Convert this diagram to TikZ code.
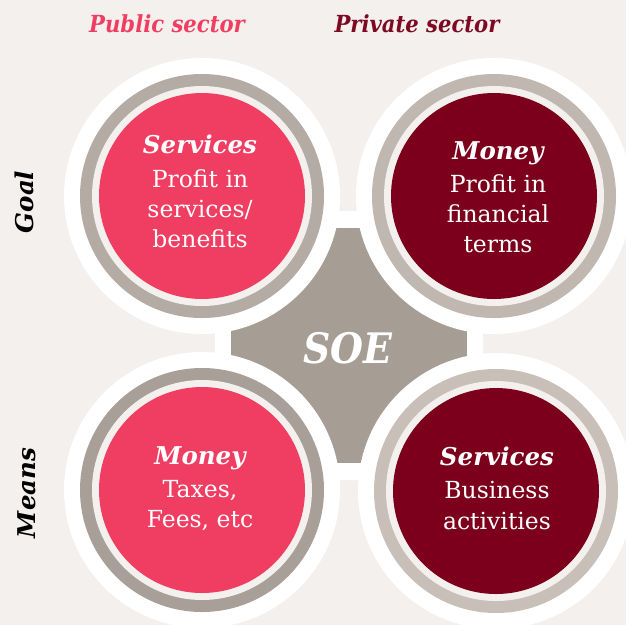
\documentclass[tikz,border=0pt]{standalone}
\usepackage{fontspec}
\setmainfont{DejaVu Serif}
\newfontfamily\condserif{DejaVu Serif Condensed}
\definecolor{bgc}{RGB}{243,240,237}
\definecolor{pinkc}{RGB}{240,62,98}
\definecolor{maroonc}{RGB}{124,0,28}
\definecolor{soegray}{RGB}{166,157,149}
\definecolor{ringA}{RGB}{180,172,164}
\definecolor{ringB}{RGB}{192,184,176}
\definecolor{ringC}{RGB}{168,160,152}
\definecolor{ringD}{RGB}{200,192,184}
\definecolor{hdrmaroon}{RGB}{125,10,34}
\tikzset{
  txt/.style={anchor=base, inner sep=0pt, outer sep=0pt},
  hdr/.style={txt, font=\condserif\fontsize{23.5}{28}\selectfont\bfseries\itshape},
  side/.style={txt, rotate=90, font=\fontsize{24.5}{28}\selectfont\bfseries\itshape},
  ctitle/.style={txt, text=white, font=\fontsize{24.5}{28}\selectfont\bfseries\itshape},
  cbody/.style={txt, text=white, font=\fontsize{23.5}{28}\selectfont},
  soetxt/.style={txt, text=white, font=\condserif\fontsize{42}{46}\selectfont\bfseries\itshape}
}
\begin{document}
\begin{tikzpicture}[x=1pt,y=-1pt]
\useasboundingbox (0,0) rectangle (626,625);
\fill[bgc] (0,0) rectangle (626,625);
\fill[white] (215,211) rectangle (483,480);
\fill[soegray] (231,228) rectangle (467,463);
\foreach \cx/\cy/\ring/\core in {202/196/ringA/pinkc, 494/196/ringB/maroonc, 202/490/ringC/pinkc, 496/491/ringD/maroonc} {
  \fill[white] (\cx,\cy) circle[radius=138pt];
  \fill[\ring] (\cx,\cy) circle[radius=122pt];
  \fill[bgc] (\cx,\cy) circle[radius=110pt];
  \fill[\core] (\cx,\cy) circle[radius=103pt];
}
\node[hdr, text=pinkc] (pub) at (167,32) {Public sector};
\node[hdr, text=hdrmaroon] (priv) at (417,32) {Private sector};
\node[side] (goal) at (33,202) {Goal};
\node[side] (means) at (35,493) {Means};
\node[soetxt] (soe) at (348,363) {SOE};
% top left
\node[ctitle] (tlt) at (200,153) {Services};
\node[cbody] (tl1) at (200,187) {Profit in};
\node[cbody] (tl2) at (200,217) {services/};
\node[cbody] (tl3) at (200,247) {benefits};
% top right
\node[ctitle] (trt) at (498,159) {Money};
\node[cbody] (tr1) at (498,192) {Profit in};
\node[cbody] (tr2) at (498,222) {financial};
\node[cbody] (tr3) at (498,252) {terms};
% bottom left
\node[ctitle] (blt) at (200,464) {Money};
\node[cbody] (bl1) at (200,497) {Taxes,};
\node[cbody] (bl2) at (200,527) {Fees, etc};
% bottom right
\node[ctitle] (brt) at (497,465) {Services};
\node[cbody] (br1) at (497,498) {Business};
\node[cbody] (br2) at (497,529) {activities};
\end{tikzpicture}
\end{document}
